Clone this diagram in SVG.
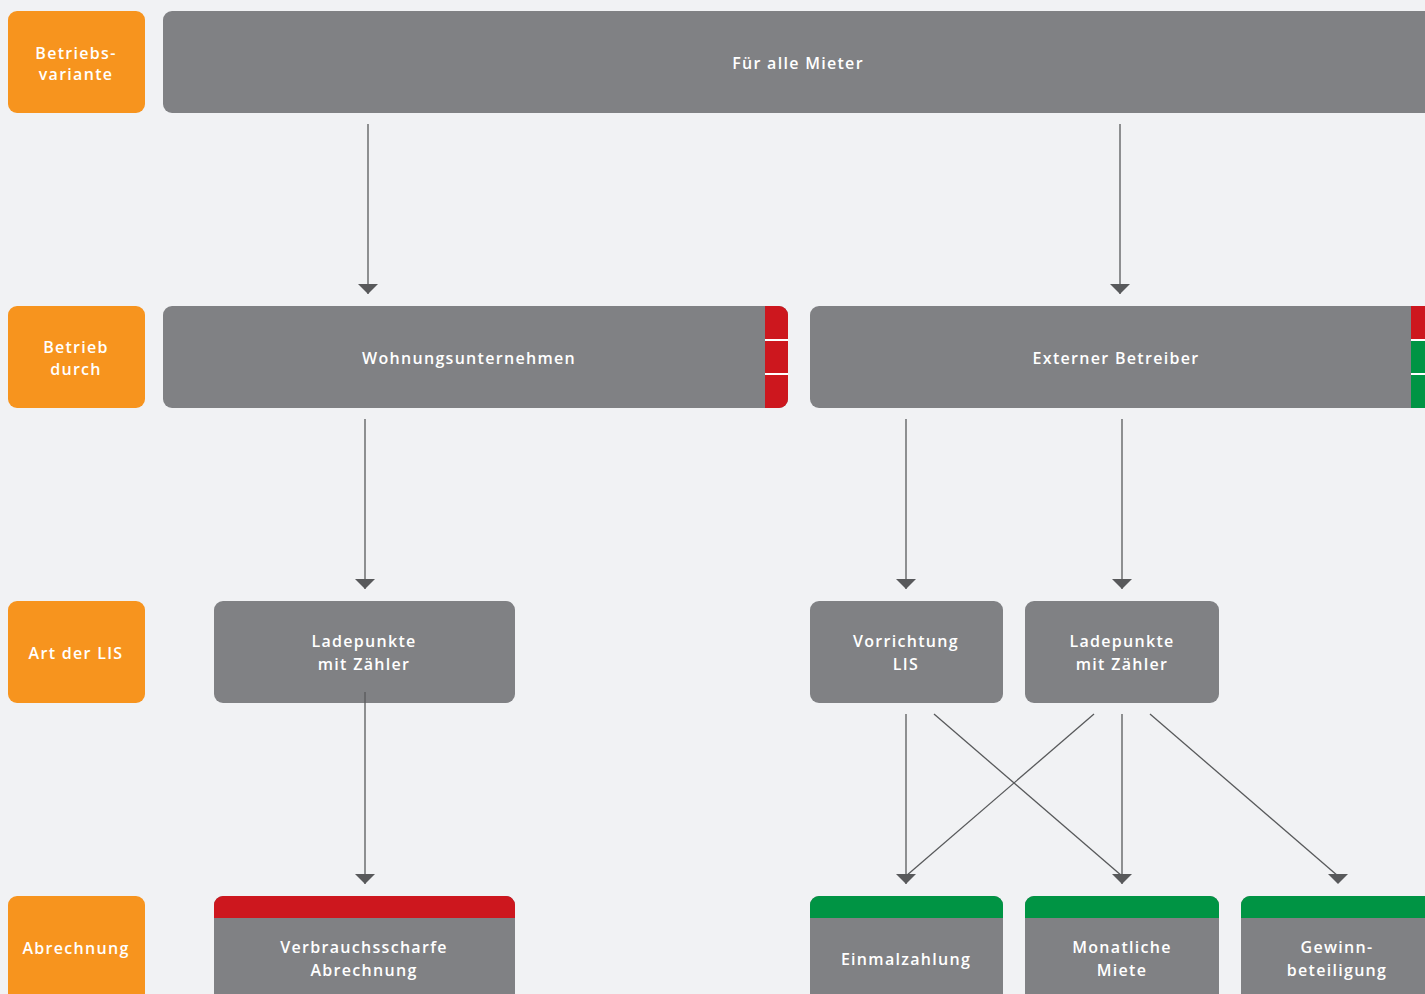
<svg xmlns="http://www.w3.org/2000/svg" width="1425" height="994" viewBox="0 0 1425 994">
<defs>
<style>
.bg{fill:#f1f2f4}
.or{fill:#f7941e}
.gr{fill:#808184}
.red{fill:#cd171e}
.grn{fill:#009444}
.sep{stroke:#ffffff;stroke-width:2}
text{font-family:"Open Sans","Liberation Sans",sans-serif;font-size:16px;font-weight:600;fill:#ffffff;text-anchor:middle;letter-spacing:1.3px}
.ln{stroke:#58595b;stroke-width:1.3;fill:none}
</style>
<marker id="ah" viewBox="0 0 10 20" refX="10" refY="10" markerWidth="10" markerHeight="20" markerUnits="userSpaceOnUse" orient="auto">
<path d="M0,0 L10,10 L0,20 Z" fill="#58595b"/>
</marker>
<clipPath id="c1"><rect x="765" y="306" width="23" height="102"/></clipPath>
</defs>
<rect class="bg" x="0" y="0" width="1425" height="994"/>

<g id="label-betriebsvariante">
<rect class="or" x="8" y="11" width="137" height="102" rx="9"/>
<text x="76" y="59">Betriebs-</text>
<text x="76" y="80">variante</text>
</g>
<g id="label-betrieb-durch">
<rect class="or" x="8" y="306" width="137" height="102" rx="9"/>
<text x="76" y="353">Betrieb</text>
<text x="76" y="375">durch</text>
</g>
<g id="label-art">
<rect class="or" x="8" y="601" width="137" height="102" rx="9"/>
<text x="76" y="659">Art der LIS</text>
</g>
<g id="label-abrechnung">
<rect class="or" x="8" y="896" width="137" height="110" rx="9"/>
<text x="76" y="954">Abrechnung</text>
</g>

<g id="node-alle-mieter">
<rect class="gr" x="163" y="11" width="1280" height="102" rx="9"/>
<text x="798" y="69">Für alle Mieter</text>
</g>

<g id="node-wohnungsunternehmen">
<rect class="gr" x="163" y="306" width="625" height="102" rx="9"/>
<g clip-path="url(#c1)">
<rect class="red" x="740" y="306" width="48" height="102" rx="9"/>
</g>
<line class="sep" x1="765" y1="340" x2="788" y2="340"/>
<line class="sep" x1="765" y1="374" x2="788" y2="374"/>
<text x="469" y="364">Wohnungsunternehmen</text>
</g>

<g id="node-externer-betreiber">
<rect class="gr" x="810" y="306" width="640" height="102" rx="9"/>
<rect class="red" x="1411" y="306" width="20" height="34"/>
<rect class="grn" x="1411" y="340" width="20" height="68"/>
<line class="sep" x1="1411" y1="340" x2="1425" y2="340"/>
<line class="sep" x1="1411" y1="374" x2="1425" y2="374"/>
<text x="1116" y="364">Externer Betreiber</text>
</g>

<g id="node-ladepunkte-1">
<rect class="gr" x="214" y="601" width="301" height="102" rx="9"/>
<text x="364" y="647">Ladepunkte</text>
<text x="364" y="670">mit Zähler</text>
</g>
<g id="node-vorrichtung">
<rect class="gr" x="810" y="601" width="193" height="102" rx="9"/>
<text x="906" y="647">Vorrichtung</text>
<text x="906" y="670">LIS</text>
</g>
<g id="node-ladepunkte-2">
<rect class="gr" x="1025" y="601" width="194" height="102" rx="9"/>
<text x="1122" y="647">Ladepunkte</text>
<text x="1122" y="670">mit Zähler</text>
</g>

<g id="node-verbrauchsscharfe">
<rect class="gr" x="214" y="896" width="301" height="110" rx="9"/>
<path class="red" d="M214,918 V905 a9,9 0 0 1 9,-9 H506 a9,9 0 0 1 9,9 V918 Z"/>
<text x="364" y="953">Verbrauchsscharfe</text>
<text x="364" y="976">Abrechnung</text>
</g>
<g id="node-einmalzahlung">
<rect class="gr" x="810" y="896" width="193" height="110" rx="9"/>
<path class="grn" d="M810,918 V905 a9,9 0 0 1 9,-9 H994 a9,9 0 0 1 9,9 V918 Z"/>
<text x="906" y="965">Einmalzahlung</text>
</g>
<g id="node-monatliche-miete">
<rect class="gr" x="1025" y="896" width="194" height="110" rx="9"/>
<path class="grn" d="M1025,918 V905 a9,9 0 0 1 9,-9 H1210 a9,9 0 0 1 9,9 V918 Z"/>
<text x="1122" y="953">Monatliche</text>
<text x="1122" y="976">Miete</text>
</g>
<g id="node-gewinnbeteiligung">
<rect class="gr" x="1241" y="896" width="210" height="110" rx="9"/>
<path class="grn" d="M1241,918 V905 a9,9 0 0 1 9,-9 H1451 V918 Z"/>
<text x="1337" y="953">Gewinn-</text>
<text x="1337" y="976">beteiligung</text>
</g>

<g id="connectors">
<line class="ln" x1="368" y1="124" x2="368" y2="294" marker-end="url(#ah)"/>
<line class="ln" x1="1120" y1="124" x2="1120" y2="294" marker-end="url(#ah)"/>
<line class="ln" x1="365" y1="419" x2="365" y2="589" marker-end="url(#ah)"/>
<line class="ln" x1="906" y1="419" x2="906" y2="589" marker-end="url(#ah)"/>
<line class="ln" x1="1122" y1="419" x2="1122" y2="589" marker-end="url(#ah)"/>
<line class="ln" x1="365" y1="692" x2="365" y2="884" marker-end="url(#ah)"/>
<line class="ln" x1="906" y1="714" x2="906" y2="884" marker-end="url(#ah)"/>
<line class="ln" x1="1122" y1="714" x2="1122" y2="884" marker-end="url(#ah)"/>
<line class="ln" x1="934" y1="714" x2="1122" y2="876"/>
<line class="ln" x1="1094" y1="714" x2="906" y2="876"/>
<line class="ln" x1="1150" y1="714" x2="1338" y2="876"/>
<path d="M1328,874 L1348,874 L1338,884 Z" fill="#58595b"/>
</g>
</svg>
